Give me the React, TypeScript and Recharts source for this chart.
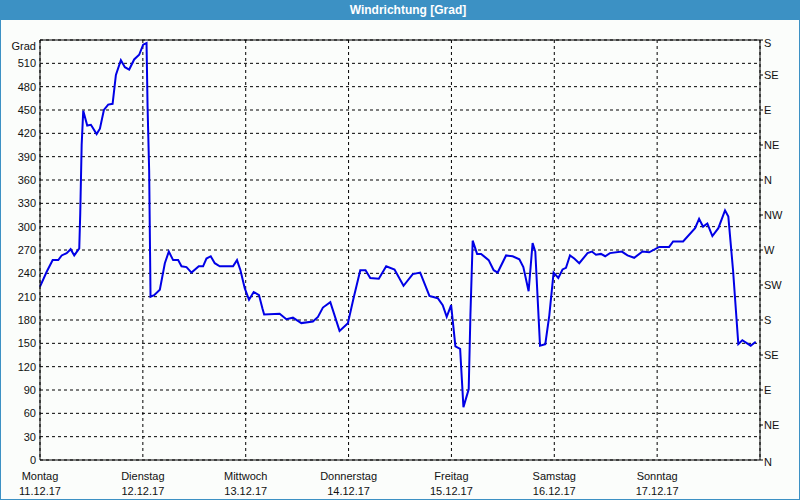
import React from "react";
import {
  LineChart,
  Line,
  XAxis,
  YAxis,
  CartesianGrid,
  ReferenceLine,
} from "recharts";

const hours = [
  0, 1.56, 2.96, 4.26, 5.06, 6.22, 7.15, 7.99, 9.16, 9.39, 9.72, 10.09, 11.02, 11.88,
  13.21, 13.98, 14.91, 15.91, 16.94, 17.71, 18.87, 19.81, 20.81, 21.97, 23.14, 24.07,
  24.86, 25.1, 25.47, 25.79, 26.63, 27.96, 29.13, 30.06, 31.06, 32.23, 33.02, 34.18,
  35.35, 37.05, 38.05, 38.84, 39.84, 40.78, 41.94, 45.04, 45.97, 46.77, 47.77, 48.77,
  49.86, 51.1, 51.89, 52.3, 55.92, 57.48, 59.02, 60.98, 63.68, 64.85, 66.01, 67.74,
  69.9, 71.84, 73.16, 74.73, 75.96, 77.06, 79.06, 80.78, 82.72, 84.82, 86.98, 88.71,
  90.87, 92.81, 93.97, 94.9, 95.93, 96.93, 98.03, 98.8, 100.03, 100.43, 100.96,
  101.99, 102.92, 104.69, 105.86, 106.79, 108.75, 110.29, 111.85, 112.78, 114.01,
  114.94, 115.57, 116.67, 117.9, 118.84, 119.84, 120.94, 121.93, 122.73, 123.66,
  124.66, 125.83, 127.76, 128.78, 129.72, 130.88, 131.88, 132.98, 135.77, 137.08,
  138.64, 140.58, 142.14, 144.47, 146.8, 147.73, 150.06, 152.85, 153.79, 154.72,
  155.72, 156.89, 158.28, 159.84, 160.61, 161.71, 162.94, 163.87, 165.83, 167,
];

const values = [
  223, 242, 257, 257, 263, 266, 271, 263, 272, 317, 405, 449, 430, 431,
  419, 426, 450, 457, 458, 495, 514, 505, 502, 515, 521, 534,
  536, 454, 372, 210, 212, 219, 253, 268, 257, 257, 249, 248,
  241, 249, 249, 259, 262, 253, 249, 249, 257, 244, 221, 206,
  216, 212, 195, 187, 188, 181, 183, 176, 178, 184, 196, 203,
  166, 176, 208, 244, 244, 234, 233, 249, 245, 224, 239, 241,
  211, 208, 199, 184, 199, 146, 143, 68, 91, 186, 282,
  265, 265, 257, 244, 241, 263, 262, 258, 248, 217,
  279, 268, 147, 149, 186, 241, 234, 245, 247, 263,
  259, 253, 266, 268, 264, 265, 262, 266, 268, 263,
  260, 268, 267, 274, 274, 281, 281, 298, 310, 300,
  304, 288, 298, 321, 313, 244, 149, 154, 147, 152,
];

const dayNames = ["Montag", "Dienstag", "Mittwoch", "Donnerstag", "Freitag", "Samstag", "Sonntag"];
const dayDates = ["11.12.17", "12.12.17", "13.12.17", "14.12.17", "15.12.17", "16.12.17", "17.12.17"];
const dayTicks = [0, 24, 48, 72, 96, 120, 144, 168];
const leftTicks = [0, 30, 60, 90, 120, 150, 180, 210, 240, 270, 300, 330, 360, 390, 420, 450, 480, 510, 540];
const compassTicks = [0, 45, 90, 135, 180, 225, 270, 315, 360, 405, 450, 495, 540];
const compassLabels = ["N", "NE", "E", "SE", "S", "SW", "W", "NW", "N", "NE", "E", "SE", "S"];

const data = hours.map((h, i) => ({ h, v: values[i] }));

const FONT = "'Liberation Sans', Arial, sans-serif";

const XTick = (props: any) => {
  const { x, y, payload } = props;
  const idx = dayTicks.indexOf(payload.value);
  if (idx < 0 || idx >= dayNames.length) return null;
  return (
    <g>
      <text x={x} y={y + 12} textAnchor="middle" fontSize={11} fill="#111" fontFamily={FONT}>
        {dayNames[idx]}
      </text>
      <text x={x} y={y + 27} textAnchor="middle" fontSize={11} fill="#111" fontFamily={FONT}>
        {dayDates[idx]}
      </text>
    </g>
  );
};

const LeftTick = (props: any) => {
  const { x, y, payload } = props;
  const label = payload.value === 540 ? "Grad" : String(payload.value);
  const dy = payload.value === 540 ? 10 : 4;
  return (
    <text x={x + 1} y={y + dy} textAnchor="end" fontSize={11} fill="#111" fontFamily={FONT}>
      {label}
    </text>
  );
};

const RightTick = (props: any) => {
  const { x, y, payload } = props;
  const idx = compassTicks.indexOf(payload.value);
  const label = compassLabels[idx];
  const dy = payload.value === 540 ? 7 : payload.value === 0 ? 6 : 4;
  return (
    <text x={x - 1} y={y + dy} textAnchor="start" fontSize={11} fill="#111" fontFamily={FONT}>
      {label}
    </text>
  );
};

export default function App() {
  return (
    <div
      style={{
        position: "absolute",
        left: 0,
        top: 0,
        width: 800,
        height: 500,
        background: "#FBFDFB",
        boxSizing: "border-box",
        border: "1px solid #3C91C4",
        borderTop: "none",
      }}
    >
      <div
        style={{
          position: "absolute",
          left: -1,
          top: 0,
          width: 800,
          height: 20,
          background: "#3C91C4",
          color: "#fff",
          fontFamily: FONT,
          fontWeight: "bold",
          fontSize: 12,
          lineHeight: "20px",
          textAlign: "center",
          paddingLeft: 16,
          boxSizing: "border-box",
        }}
      >
        Windrichtung [Grad]
      </div>
      <div style={{ position: "absolute", left: -1, top: 20 }}>
        <LineChart
          width={800}
          height={480}
          data={data}
          margin={{ top: 20, right: 0, bottom: 0, left: 0 }}
        >
          <CartesianGrid yAxisId="left" stroke="#000" strokeDasharray="3 3" />
          <XAxis
            dataKey="h"
            type="number"
            domain={[0, 168]}
            ticks={dayTicks}
            tick={<XTick />}
            tickLine={false}
            axisLine={{ stroke: "#000" }}
            height={40}
            interval={0}
          />
          <YAxis
            yAxisId="left"
            orientation="left"
            domain={[0, 540]}
            ticks={leftTicks}
            tick={<LeftTick />}
            tickLine={false}
            tickSize={3}
            axisLine={{ stroke: "#000" }}
            width={40}
            interval={0}
          />
          <YAxis
            yAxisId="right"
            orientation="right"
            domain={[0, 540]}
            ticks={compassTicks}
            tick={<RightTick />}
            tickLine={{ stroke: "#000" }}
            tickSize={3}
            axisLine={{ stroke: "#000" }}
            width={40}
            interval={0}
          />
          <ReferenceLine yAxisId="left" y={540} stroke="#000" strokeWidth={1} />
          <Line
            yAxisId="right"
            dataKey="v"
            type="linear"
            stroke="none"
            strokeWidth={0}
            dot={false}
            activeDot={false}
            legendType="none"
            isAnimationActive={false}
          />
          <Line
            yAxisId="left"
            dataKey="v"
            type="linear"
            stroke="#0000E6"
            strokeWidth={2}
            dot={false}
            isAnimationActive={false}
          />
        </LineChart>
      </div>
    </div>
  );
}
